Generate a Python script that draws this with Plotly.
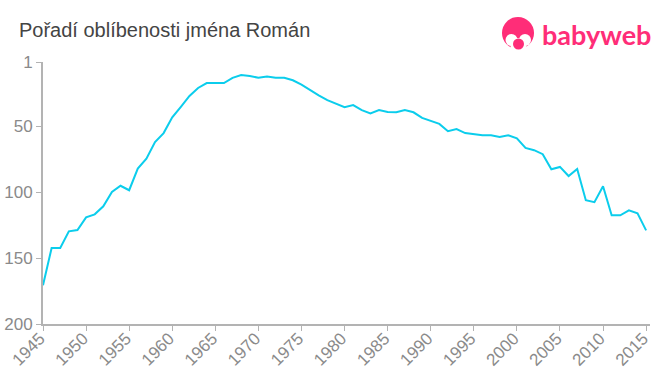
import plotly.graph_objects as go

years = list(range(1945, 2016))
ranks = [170.6, 142.3, 142.3, 129.6, 128.6, 119, 116.7, 110.6, 99.7, 95, 98.4,
         82, 74.4, 61.8, 55, 43, 35, 26.8, 20.7, 17, 17, 17, 13, 10.9, 11.6, 13,
         12, 13, 13, 14.9, 18.2, 22.5, 26.3, 30, 32.6, 35.4, 33.7, 37.5, 40, 37.5,
         39, 39.2, 37.5, 39.2, 43.5, 46, 48, 53.6, 51.9, 55, 56, 56.7, 56.7, 58,
         56.7, 59, 66.3, 68, 71, 82.5, 80.7, 87.6, 82.2, 106, 107.5, 95.4, 117.4,
         117.4, 113.7, 116, 128.9]
x_ticks = list(range(1945, 2016, 5))
y_ticks = [1, 50, 100, 150, 200]
title = "Pořadí oblíbenosti jména Román"
brand = "babyweb"

W, H = 660, 375
L, R, T, B = 43, 650, 62, 324
PINK = "#ff2d78"


def px(v):
    return (v - L) / (R - L)


def py(v):
    return (B - v) / (B - T)


def circle(cx, cy, r, color):
    return dict(type="circle", xref="paper", yref="paper", layer="above",
                x0=px(cx - r), x1=px(cx + r), y0=py(cy + r), y1=py(cy - r),
                fillcolor=color, line=dict(width=0))


fig = go.Figure(go.Scatter(x=years, y=ranks, mode="lines", cliponaxis=False,
                           line=dict(color="#0bcdec", width=2), hoverinfo="skip"))
axis_font = dict(family="Liberation Sans, Arial, sans-serif", size=17, color="#8a8a8a")
fig.update_layout(
    width=W, height=H, autosize=False, showlegend=False,
    paper_bgcolor="white", plot_bgcolor="white",
    margin=dict(l=L, r=W - R, t=T, b=H - B, pad=0, autoexpand=False),
    xaxis=dict(range=[1945, 2015.45], tickvals=x_ticks, ticktext=[str(v) for v in x_ticks],
               tickangle=-45, ticks="outside", ticklen=5, tickwidth=1, tickcolor="#b3b3b3",
               showline=True, linecolor="#b3b3b3", linewidth=2, showgrid=False,
               zeroline=False, tickfont=axis_font, automargin=False,
               ticklabelstandoff=-9, ticklabelshift=-3),
    yaxis=dict(range=[200, 1], tickvals=y_ticks, ticktext=[str(v) for v in y_ticks],
               ticks="outside", ticklen=5, tickwidth=1, tickcolor="#b3b3b3",
               showline=True, linecolor="#b3b3b3", linewidth=2, showgrid=False,
               zeroline=False, tickfont=axis_font, automargin=False),
    annotations=[
        dict(text=title, xref="paper", yref="paper", x=px(19), y=py(30), xanchor="left",
             yanchor="middle", showarrow=False, xshift=-2,
             font=dict(family="Liberation Sans, Arial, sans-serif", size=20, color="#444444")),
        dict(text="<b>" + brand + "</b>", xref="paper", yref="paper", x=px(596.5), y=py(34), xanchor="center",
             yanchor="middle", showarrow=False,
             font=dict(family="Lato, sans-serif", size=27, color=PINK)),
    ],
    shapes=[
        circle(518, 33, 16, PINK),
        circle(511.5, 40, 6, "white"),
        circle(525, 40, 6, "white"),
        circle(518.5, 46, 8, "white"),
        circle(518.5, 44, 5.5, PINK),
    ],
)
fig.write_html("out.html", config={"displayModeBar": False},
               post_script="document.body.style.margin='0';")
